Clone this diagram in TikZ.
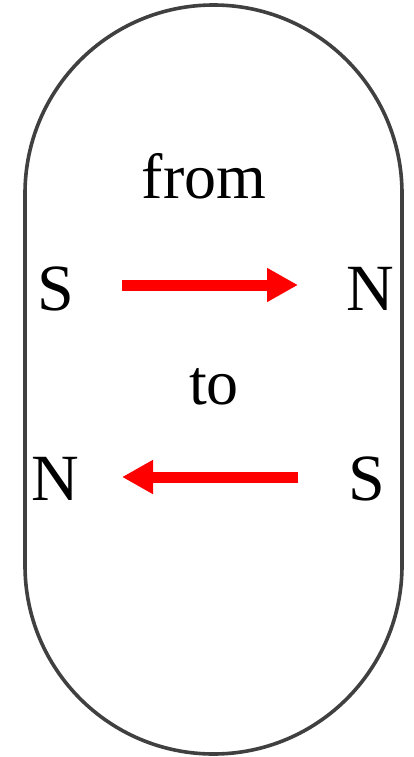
\documentclass[tikz,border=0pt]{standalone}
\usepackage{fontspec}
\setmainfont{Liberation Serif}
\usetikzlibrary{arrows.meta}
\begin{document}
\begin{tikzpicture}[x=1pt,y=-1pt,
  pole/.style={anchor=base,inner sep=0pt,font=\fontsize{66}{70}\selectfont},
  word/.style={anchor=base,inner sep=0pt,font=\fontsize{64}{70}\selectfont},
  fieldarrow/.style={draw=red,line width=11pt,
    -{Triangle[length=31pt,width=32pt,fill=red]}}]
  \useasboundingbox (0,0) rectangle (413,757);
  % capsule outline
  \draw[black!75,line width=3.6pt,rounded corners=188.5pt] (25,5) rectangle (402,754);
  % labels
  \node[word] (from) at (204,198) {from};
  \node[word] (to) at (214,404) {to};
  \node[pole] (S1) at (56,310) {S};
  \node[pole] (N1) at (370,310) {N};
  \node[pole] (N2) at (55,500) {N};
  \node[pole] (S2) at (367,500) {S};
  % arrow ends
  \coordinate (a1s) at (122,285);
  \coordinate (a1e) at (298,285);
  \coordinate (a2s) at (298,477);
  \coordinate (a2e) at (122,477);
  \draw[fieldarrow] (a1s) -- (a1e);
  \draw[fieldarrow] (a2s) -- (a2e);
\end{tikzpicture}
\end{document}
